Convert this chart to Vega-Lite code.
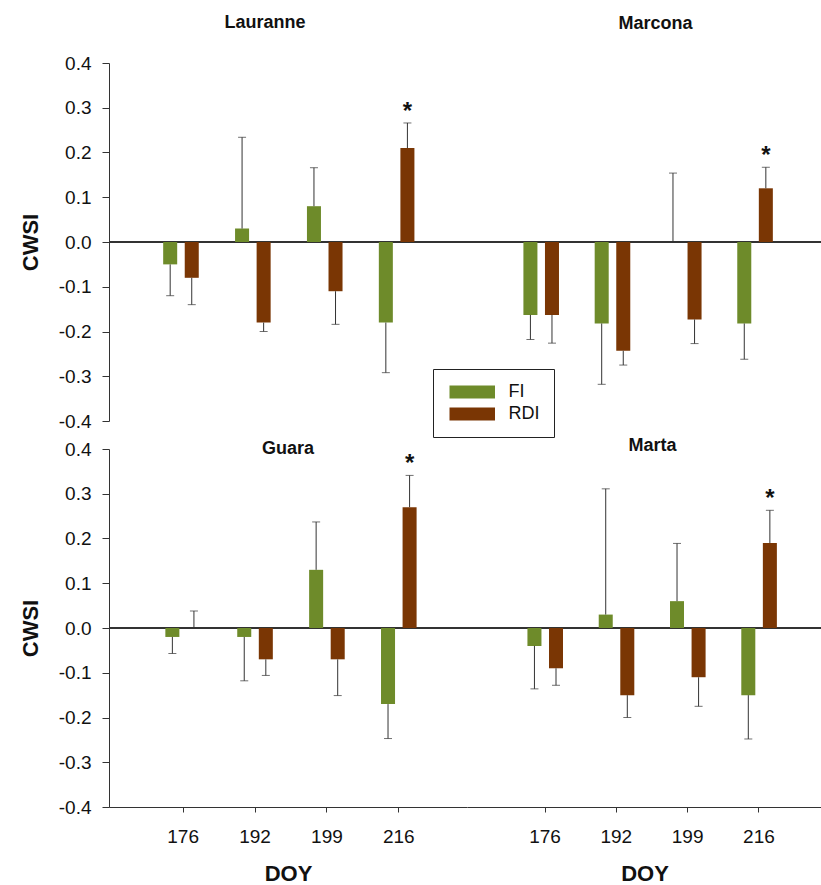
{
  "$schema": "https://vega.github.io/schema/vega-lite/v6.json",
  "padding": {"left": 19, "top": 14, "right": 0, "bottom": 0},
  "data": {"values": [
    {"site": "Lauranne", "doy": "176", "trt": "FI", "cwsi": -0.05, "err": -0.12, "sig": ""},
    {"site": "Lauranne", "doy": "176", "trt": "RDI", "cwsi": -0.08, "err": -0.14, "sig": ""},
    {"site": "Lauranne", "doy": "192", "trt": "FI", "cwsi": 0.03, "err": 0.234, "sig": ""},
    {"site": "Lauranne", "doy": "192", "trt": "RDI", "cwsi": -0.18, "err": -0.2, "sig": ""},
    {"site": "Lauranne", "doy": "199", "trt": "FI", "cwsi": 0.08, "err": 0.166, "sig": ""},
    {"site": "Lauranne", "doy": "199", "trt": "RDI", "cwsi": -0.11, "err": -0.184, "sig": ""},
    {"site": "Lauranne", "doy": "216", "trt": "FI", "cwsi": -0.18, "err": -0.292, "sig": ""},
    {"site": "Lauranne", "doy": "216", "trt": "RDI", "cwsi": 0.21, "err": 0.266, "sig": "*"},
    {"site": "Marcona", "doy": "176", "trt": "FI", "cwsi": -0.163, "err": -0.218, "sig": ""},
    {"site": "Marcona", "doy": "176", "trt": "RDI", "cwsi": -0.163, "err": -0.226, "sig": ""},
    {"site": "Marcona", "doy": "192", "trt": "FI", "cwsi": -0.182, "err": -0.318, "sig": ""},
    {"site": "Marcona", "doy": "192", "trt": "RDI", "cwsi": -0.243, "err": -0.275, "sig": ""},
    {"site": "Marcona", "doy": "199", "trt": "FI", "cwsi": 0, "err": 0.154, "sig": ""},
    {"site": "Marcona", "doy": "199", "trt": "RDI", "cwsi": -0.173, "err": -0.227, "sig": ""},
    {"site": "Marcona", "doy": "216", "trt": "FI", "cwsi": -0.182, "err": -0.262, "sig": ""},
    {"site": "Marcona", "doy": "216", "trt": "RDI", "cwsi": 0.12, "err": 0.167, "sig": "*"},
    {"site": "Guara", "doy": "176", "trt": "FI", "cwsi": -0.02, "err": -0.057, "sig": ""},
    {"site": "Guara", "doy": "176", "trt": "RDI", "cwsi": 0, "err": 0.038, "sig": ""},
    {"site": "Guara", "doy": "192", "trt": "FI", "cwsi": -0.02, "err": -0.118, "sig": ""},
    {"site": "Guara", "doy": "192", "trt": "RDI", "cwsi": -0.07, "err": -0.106, "sig": ""},
    {"site": "Guara", "doy": "199", "trt": "FI", "cwsi": 0.13, "err": 0.237, "sig": ""},
    {"site": "Guara", "doy": "199", "trt": "RDI", "cwsi": -0.07, "err": -0.151, "sig": ""},
    {"site": "Guara", "doy": "216", "trt": "FI", "cwsi": -0.17, "err": -0.247, "sig": ""},
    {"site": "Guara", "doy": "216", "trt": "RDI", "cwsi": 0.27, "err": 0.341, "sig": "*"},
    {"site": "Marta", "doy": "176", "trt": "FI", "cwsi": -0.04, "err": -0.136, "sig": ""},
    {"site": "Marta", "doy": "176", "trt": "RDI", "cwsi": -0.09, "err": -0.128, "sig": ""},
    {"site": "Marta", "doy": "192", "trt": "FI", "cwsi": 0.03, "err": 0.311, "sig": ""},
    {"site": "Marta", "doy": "192", "trt": "RDI", "cwsi": -0.15, "err": -0.2, "sig": ""},
    {"site": "Marta", "doy": "199", "trt": "FI", "cwsi": 0.06, "err": 0.189, "sig": ""},
    {"site": "Marta", "doy": "199", "trt": "RDI", "cwsi": -0.11, "err": -0.175, "sig": ""},
    {"site": "Marta", "doy": "216", "trt": "FI", "cwsi": -0.15, "err": -0.248, "sig": ""},
    {"site": "Marta", "doy": "216", "trt": "RDI", "cwsi": 0.19, "err": 0.263, "sig": "*"}
  ]},
  "columns": 2,
  "spacing": {"row": 28, "column": 0},
  "bounds": "flush",
  "concat": [
    {
      "width": 358, "height": 358,
      "title": {"text": "Lauranne", "dx": -23, "offset": 22},
      "transform": [{"filter": "datum.site === 'Lauranne'"}],
      "layer": [
        {"mark": {"type": "rule", "color": "#333", "strokeWidth": 1}, "encoding": {"y": {"datum": 0, "type": "quantitative", "scale": {"domain": [-0.4, 0.4], "nice": false}, "axis": {"values": [-0.4, -0.3, -0.2, -0.1, 0, 0.1, 0.2, 0.3, 0.4], "labelExpr": "replace(format(datum.value, '.1f'), '−', '-')", "title": "CWSI"}}}},
        {"mark": {"type": "bar"}, "encoding": {
          "x": {"field": "doy", "type": "ordinal", "scale": {"domain": ["176", "192", "199", "216"], "paddingInner": 0.4, "paddingOuter": 0.69, "align": 0.508}, "axis": null},
          "xOffset": {"field": "trt", "scale": {"domain": ["FI", "RDI"], "paddingInner": 0.35, "paddingOuter": 0.175}},
          "y": {"field": "cwsi", "type": "quantitative"},
          "color": {"field": "trt", "type": "nominal", "scale": {"domain": ["FI", "RDI"], "range": ["#6e8b2a", "#7a3604"]}, "legend": {"title": null}}}},
        {"mark": {"type": "rule", "color": "#333", "strokeWidth": 1}, "encoding": {
          "x": {"field": "doy", "type": "ordinal", "axis": null},
          "xOffset": {"field": "trt"},
          "y": {"field": "cwsi", "type": "quantitative"}, "y2": {"field": "err"}}},
        {"mark": {"type": "tick", "color": "#333", "size": 8, "thickness": 1}, "encoding": {
          "x": {"field": "doy", "type": "ordinal", "axis": null},
          "xOffset": {"field": "trt"},
          "y": {"field": "err", "type": "quantitative"}}},
        {"transform": [{"filter": "datum.sig !== ''"}], "mark": {"type": "text", "fontSize": 24, "fontWeight": "bold", "baseline": "alphabetic", "dy": -4, "color": "#111"}, "encoding": {
          "x": {"field": "doy", "type": "ordinal", "axis": null},
          "xOffset": {"field": "trt"},
          "y": {"field": "err", "type": "quantitative"}, "text": {"field": "sig"}}}
      ]
    },
    {
      "width": 355, "height": 358,
      "title": {"text": "Marcona", "dx": 11, "offset": 30},
      "transform": [{"filter": "datum.site === 'Marcona'"}],
      "layer": [
        {"mark": {"type": "rule", "color": "#333", "strokeWidth": 1}, "encoding": {"y": {"datum": 0, "type": "quantitative", "scale": {"domain": [-0.4, 0.4], "nice": false}, "axis": null}}},
        {"mark": {"type": "bar"}, "encoding": {
          "x": {"field": "doy", "type": "ordinal", "scale": {"domain": ["176", "192", "199", "216"], "paddingInner": 0.4, "paddingOuter": 0.69, "align": 0.535}, "axis": null},
          "xOffset": {"field": "trt", "scale": {"domain": ["FI", "RDI"], "paddingInner": 0.35, "paddingOuter": 0.175}},
          "y": {"field": "cwsi", "type": "quantitative", "axis": null},
          "color": {"field": "trt", "type": "nominal", "scale": {"domain": ["FI", "RDI"], "range": ["#6e8b2a", "#7a3604"]}, "legend": {"title": null}}}},
        {"mark": {"type": "rule", "color": "#333", "strokeWidth": 1}, "encoding": {
          "x": {"field": "doy", "type": "ordinal", "axis": null},
          "xOffset": {"field": "trt"},
          "y": {"field": "cwsi", "type": "quantitative", "axis": null}, "y2": {"field": "err"}}},
        {"mark": {"type": "tick", "color": "#333", "size": 8, "thickness": 1}, "encoding": {
          "x": {"field": "doy", "type": "ordinal", "axis": null},
          "xOffset": {"field": "trt"},
          "y": {"field": "err", "type": "quantitative", "axis": null}}},
        {"transform": [{"filter": "datum.sig !== ''"}], "mark": {"type": "text", "fontSize": 24, "fontWeight": "bold", "baseline": "alphabetic", "dy": -4, "color": "#111"}, "encoding": {
          "x": {"field": "doy", "type": "ordinal", "axis": null},
          "xOffset": {"field": "trt"},
          "y": {"field": "err", "type": "quantitative", "axis": null}, "text": {"field": "sig"}}}
      ]
    },
    {
      "width": 358, "height": 358,
      "title": {"text": "Guara", "dx": 0, "offset": -18},
      "transform": [{"filter": "datum.site === 'Guara'"}],
      "layer": [
        {"mark": {"type": "rule", "color": "#333", "strokeWidth": 1}, "encoding": {"y": {"datum": 0, "type": "quantitative", "scale": {"domain": [-0.4, 0.4], "nice": false}, "axis": {"values": [-0.4, -0.3, -0.2, -0.1, 0, 0.1, 0.2, 0.3, 0.4], "labelExpr": "replace(format(datum.value, '.1f'), '−', '-')", "title": "CWSI"}}}},
        {"mark": {"type": "bar"}, "encoding": {
          "x": {"field": "doy", "type": "ordinal", "scale": {"domain": ["176", "192", "199", "216"], "paddingInner": 0.4, "paddingOuter": 0.69, "align": 0.53}, "axis": {"title": "DOY", "labelAngle": 0}},
          "xOffset": {"field": "trt", "scale": {"domain": ["FI", "RDI"], "paddingInner": 0.35, "paddingOuter": 0.175}},
          "y": {"field": "cwsi", "type": "quantitative"},
          "color": {"field": "trt", "type": "nominal", "scale": {"domain": ["FI", "RDI"], "range": ["#6e8b2a", "#7a3604"]}, "legend": {"title": null}}}},
        {"mark": {"type": "rule", "color": "#333", "strokeWidth": 1}, "encoding": {
          "x": {"field": "doy", "type": "ordinal"},
          "xOffset": {"field": "trt"},
          "y": {"field": "cwsi", "type": "quantitative"}, "y2": {"field": "err"}}},
        {"mark": {"type": "tick", "color": "#333", "size": 8, "thickness": 1}, "encoding": {
          "x": {"field": "doy", "type": "ordinal"},
          "xOffset": {"field": "trt"},
          "y": {"field": "err", "type": "quantitative"}}},
        {"transform": [{"filter": "datum.sig !== ''"}], "mark": {"type": "text", "fontSize": 24, "fontWeight": "bold", "baseline": "alphabetic", "dy": -4, "color": "#111"}, "encoding": {
          "x": {"field": "doy", "type": "ordinal"},
          "xOffset": {"field": "trt"},
          "y": {"field": "err", "type": "quantitative"}, "text": {"field": "sig"}}}
      ]
    },
    {
      "width": 355, "height": 358,
      "title": {"text": "Marta", "dx": 8, "offset": -6},
      "transform": [{"filter": "datum.site === 'Marta'"}],
      "layer": [
        {"mark": {"type": "rule", "color": "#333", "strokeWidth": 1}, "encoding": {"y": {"datum": 0, "type": "quantitative", "scale": {"domain": [-0.4, 0.4], "nice": false}, "axis": null}}},
        {"mark": {"type": "bar"}, "encoding": {
          "x": {"field": "doy", "type": "ordinal", "scale": {"domain": ["176", "192", "199", "216"], "paddingInner": 0.4, "paddingOuter": 0.69, "align": 0.576}, "axis": {"title": "DOY", "labelAngle": 0}},
          "xOffset": {"field": "trt", "scale": {"domain": ["FI", "RDI"], "paddingInner": 0.35, "paddingOuter": 0.175}},
          "y": {"field": "cwsi", "type": "quantitative", "axis": null},
          "color": {"field": "trt", "type": "nominal", "scale": {"domain": ["FI", "RDI"], "range": ["#6e8b2a", "#7a3604"]}, "legend": {"title": null}}}},
        {"mark": {"type": "rule", "color": "#333", "strokeWidth": 1}, "encoding": {
          "x": {"field": "doy", "type": "ordinal"},
          "xOffset": {"field": "trt"},
          "y": {"field": "cwsi", "type": "quantitative", "axis": null}, "y2": {"field": "err"}}},
        {"mark": {"type": "tick", "color": "#333", "size": 8, "thickness": 1}, "encoding": {
          "x": {"field": "doy", "type": "ordinal"},
          "xOffset": {"field": "trt"},
          "y": {"field": "err", "type": "quantitative", "axis": null}}},
        {"transform": [{"filter": "datum.sig !== ''"}], "mark": {"type": "text", "fontSize": 24, "fontWeight": "bold", "baseline": "alphabetic", "dy": -4, "color": "#111"}, "encoding": {
          "x": {"field": "doy", "type": "ordinal"},
          "xOffset": {"field": "trt"},
          "y": {"field": "err", "type": "quantitative", "axis": null}, "text": {"field": "sig"}}}
      ]
    }
  ],
  "config": {
    "font": "Liberation Sans",
    "view": {"stroke": null},
    "axis": {"grid": false, "labelFont": "Liberation Sans", "labelFontSize": 19, "labelColor": "#111", "titleFont": "Liberation Sans", "titleFontSize": 22, "titleFontWeight": "bold", "titleColor": "#111", "domainColor": "#333", "tickColor": "#333"},
    "axisY": {"tickSize": 7, "labelPadding": 11, "titlePadding": 16},
    "axisX": {"tickSize": 5, "labelPadding": 15, "titlePadding": 17},
    "title": {"font": "Liberation Sans", "fontSize": 18, "fontWeight": "bold", "color": "#111", "anchor": "middle", "baseline": "alphabetic", "frame": "group"},
    "legend": {"orient": "none", "legendX": 324, "legendY": 306, "strokeColor": "#222", "fillColor": "white", "padding": 14, "symbolType": "M-1,-1H6V1H-1Z", "symbolSize": 169, "symbolStrokeWidth": 0, "labelFontSize": 18, "labelColor": "#111", "labelOffset": 43.5, "rowPadding": 4}
  }
}
